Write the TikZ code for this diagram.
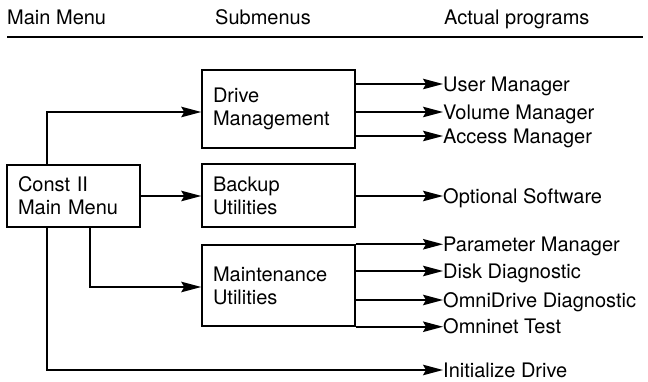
\documentclass[tikz,border=0pt]{standalone}
\usepackage{fontspec}
\setmainfont{TeX Gyre Heros}
\usetikzlibrary{arrows.meta}
\begin{document}
\begin{tikzpicture}[x=1pt,y=-1pt,
  conn/.style={line width=1.5pt},
  arr/.style={conn,-{Stealth[length=20pt,width=10.5pt,inset=3pt]}},
  menubox/.style={draw,line width=1.5pt,inner xsep=11pt,inner ysep=0pt,align=left,
    font=\fontsize{20}{23}\selectfont},
  prog/.style={anchor=base west,inner sep=0pt,font=\fontsize{20}{23}\selectfont},
  head/.style={anchor=base west,inner sep=0pt,font=\fontsize{20}{23}\selectfont}]
\useasboundingbox (0,0) rectangle (648,382);
% header
\node[head] (h1) at (7,25) {Main Menu};
\node[head] (h2) at (215,25) {Submenus};
\node[head] (h3) at (444,25) {Actual programs};
\coordinate (hl) at (7,37);
\coordinate (hr) at (643,37);
\draw[line width=1.5pt] (hl) -- (hr);
% boxes
\node[menubox,minimum width=133pt,minimum height=62pt,text width=111pt] (main) at (73.5,196) {Const II\\Main Menu};
\node[menubox,minimum width=153pt,minimum height=78pt,text width=131pt] (drive) at (278.5,109) {Drive\\Management};
\node[menubox,minimum width=153pt,minimum height=63pt,text width=131pt] (backup) at (278.5,195.5) {Backup\\Utilities};
\node[menubox,minimum width=153pt,minimum height=81pt,text width=131pt] (maint) at (278.5,285.5) {Maintenance\\Utilities};
% program labels
\node[prog] (um) at (443,91.3) {User Manager};
\node[prog] (vm) at (443,119.3) {Volume Manager};
\node[prog] (am) at (443,143.3) {Access Manager};
\node[prog] (os) at (443,203.3) {Optional Software};
\node[prog] (pm) at (443,251.3) {Parameter Manager};
\node[prog] (dd) at (443,278.3) {Disk Diagnostic};
\node[prog] (od) at (443,307.3) {OmniDrive Diagnostic};
\node[prog] (ot) at (443,333.3) {Omninet Test};
\node[prog] (id) at (443,377.3) {Initialize Drive};
% main menu connectors
\draw[arr] (main.north west -| 47,0) |- (drive.west |- 0,112);
\draw[arr] (main.east |- 0,196) -- (backup.west |- 0,196);
\draw[arr] (main.south west -| 90,0) |- (maint.west |- 0,287);
\draw[arr] (main.south west -| 47,0) |- (id.west |- 0,370);
% drive management
\draw[arr] (drive.east |- 0,84) -- (um.west |- 0,84);
\draw[arr] (drive.east |- 0,112) -- (vm.west |- 0,112);
\draw[arr] (drive.east |- 0,136) -- (am.west |- 0,136);
% backup
\draw[arr] (backup.east |- 0,196) -- (os.west |- 0,196);
% maintenance
\draw[arr] (maint.north east) -- (pm.west |- maint.north east);
\draw[arr] (maint.east |- 0,271) -- (dd.west |- 0,271);
\draw[arr] (maint.east |- 0,300) -- (od.west |- 0,300);
\draw[arr] (maint.south east) -- (ot.west |- maint.south east);
\end{tikzpicture}
\end{document}
